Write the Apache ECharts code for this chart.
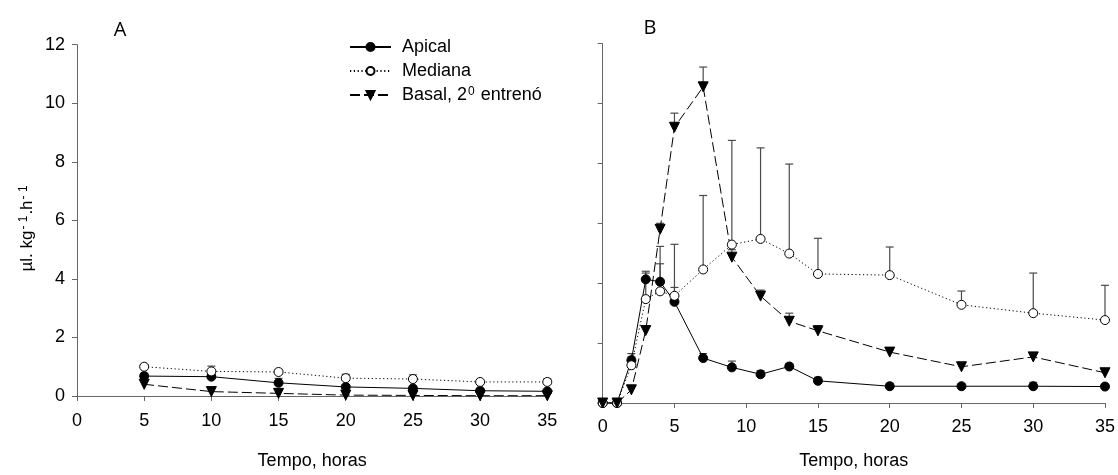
<!DOCTYPE html>
<html>
<head>
<meta charset="utf-8">
<script src="https://cdn.jsdelivr.net/npm/echarts@6/dist/echarts.min.js"></script>
<style>
  html, body { margin: 0; padding: 0; background: #fff; }
  #chart { width: 1118px; height: 475px; }
</style>
</head>
<body>
<div id="chart"></div>
<script type="text/javascript">
// painel A
var tempoA = [5, 10, 15, 20, 25, 30, 35];
var apicalA = [0.68, 0.66, 0.45, 0.31, 0.26, 0.18, 0.16];
var apicalAErr = [0.10, 0.08, 0.15, 0.07, 0.06, 0.05, 0.05];
var medianaA = [1.00, 0.84, 0.82, 0.61, 0.58, 0.48, 0.48];
var medianaAErr = [0.08, 0.18, 0.09, 0.13, 0.14, 0.04, 0.11];
var basalA = [0.40, 0.15, 0.09, 0.03, 0.02, 0.01, 0.01];
var basalAErr = [0, 0, 0, 0, 0, 0, 0];

// painel B
var tempoB = [0, 1, 2, 3, 4, 5, 7, 9, 11, 13, 15, 20, 25, 30, 35];
var apicalB = [0, 0, 1.43, 4.13, 4.05, 3.38, 1.50, 1.19, 0.96, 1.22, 0.74, 0.56, 0.56, 0.56, 0.55];
var apicalBErr = [0, 0, 0.22, 0.27, 0.60, 0.48, 0.15, 0.21, 0.12, 0.10, 0.12, 0.10, 0.08, 0.13, 0];
var medianaB = [0, 0, 1.26, 3.47, 3.73, 3.58, 4.46, 5.29, 5.48, 4.99, 4.31, 4.27, 3.28, 3.00, 2.77];
var medianaBErr = [0, 0, 0.28, 0.87, 1.50, 1.72, 2.47, 3.48, 3.04, 2.99, 1.19, 0.94, 0.46, 1.34, 1.16];
var basalB = [0, 0, 0.44, 2.42, 5.80, 9.21, 10.56, 4.87, 3.57, 2.73, 2.41, 1.70, 1.21, 1.54, 1.01];
var basalBErr = [0, 0, 0, 0, 0.20, 0.47, 0.66, 0.25, 0.20, 0.27, 0.17, 0, 0, 0, 0];

var FONT = '"Liberation Sans", Arial, sans-serif';
var AXIS = '#666';

function pares(t, v) {
    return t.map(function (x, i) { return [x, v[i]]; });
}
function trios(t, v, e) {
    return t.map(function (x, i) { return [x, v[i], e[i]]; });
}

// barra de erro so para cima, com traco no topo
function erroBar(params, api) {
    var e = api.value(2);
    if (!e) return;
    var x = api.value(0), y = api.value(1);
    var p0 = api.coord([x, y]);
    var p1 = api.coord([x, y + e]);
    var st = { stroke: '#4a4a4a', lineWidth: 1.2 };
    return {
        type: 'group',
        children: [
            { type: 'line', shape: { x1: p0[0], y1: p0[1], x2: p1[0], y2: p1[1] }, style: st },
            { type: 'line', shape: { x1: p1[0] - 4, y1: p1[1], x2: p1[0] + 4, y2: p1[1] }, style: st }
        ]
    };
}

function xEixo(idx, gap, labelMargin) {
    return {
        type: 'value', gridIndex: idx, min: 0, max: 35, interval: 5,
        name: 'Tempo, horas', nameLocation: 'middle', nameGap: gap,
        nameTextStyle: { fontFamily: FONT, fontSize: 18, color: '#000' },
        axisLine: { onZero: false, lineStyle: { color: AXIS, width: 1 } },
        axisTick: { show: true, length: 5, lineStyle: { color: AXIS } },
        axisLabel: { fontFamily: FONT, fontSize: 18, color: '#000', margin: labelMargin },
        splitLine: { show: false }
    };
}
function yEixo(idx, labels) {
    return {
        type: 'value', gridIndex: idx, min: 0, max: 12, interval: 2,
        axisLine: { show: true, lineStyle: { color: AXIS, width: 1 } },
        axisTick: { show: true, length: 5, lineStyle: { color: AXIS } },
        axisLabel: { show: labels, fontFamily: FONT, fontSize: 18, color: '#000', margin: 12 },
        splitLine: { show: false }
    };
}

var estilos = {
    'Apical': { symbol: 'circle', symbolSize: 9, symbolRotate: 0, line: 'solid', fill: '#000' },
    'Mediana': { symbol: 'circle', symbolSize: 9, symbolRotate: 0, line: [1.2, 2.6], fill: '#fff' },
    'Basal': { symbol: 'triangle', symbolSize: 10, symbolRotate: 180, line: [10, 4], fill: '#000' }
};

function linha(nome, idx, data) {
    var s = estilos[nome];
    return {
        name: nome, type: 'line', xAxisIndex: idx, yAxisIndex: idx, data: data,
        symbol: s.symbol, symbolSize: s.symbolSize, symbolRotate: s.symbolRotate,
        showAllSymbol: true, z: 3,
        lineStyle: { color: '#000', width: 1, type: s.line },
        itemStyle: { color: s.fill, borderColor: '#000', borderWidth: 1 }
    };
}
function erro(nome, idx, data) {
    return {
        name: nome, type: 'custom', xAxisIndex: idx, yAxisIndex: idx, data: data,
        renderItem: erroBar, z: 2, silent: true
    };
}

var myChart = echarts.init(document.getElementById('chart'), null, { renderer: 'canvas' });
var option = {
    backgroundColor: '#fff',
    animation: false,
    grid: [
        { left: 77, top: 44.7, width: 470.3, height: 352.6 },
        { left: 602.7, top: 43.7, width: 505, height: 364 }
    ],
    xAxis: [xEixo(0, 56, 16), xEixo(1, 49, 15)],
    yAxis: [yEixo(0, true), yEixo(1, false)],
    legend: {
        data: ['Apical', 'Mediana', 'Basal'],
        orient: 'vertical', left: 344, top: 33,
        itemWidth: 41, itemHeight: 10, itemGap: 6,
        selectedMode: false,
        formatter: function (name) {
            if (name === 'Basal') return '{t|Basal, 2}{s|0}{t| entrenó}';
            return '{t|' + name + '}';
        },
        textStyle: {
            padding: [0, 0, 0, 6],
            rich: {
                t: { fontFamily: FONT, fontSize: 18, color: '#000', lineHeight: 18 },
                s: { fontFamily: FONT, fontSize: 12, color: '#000', verticalAlign: 'top', lineHeight: 11, padding: [0, 1, 0, 1] }
            }
        }
    },
    graphic: [
        { type: 'text', x: 120, y: 30, style: { text: 'A', font: '20px "Open Sans", sans-serif', fill: '#000', textAlign: 'center', textVerticalAlign: 'middle' } },
        { type: 'text', x: 650, y: 28, style: { text: 'B', font: '20px "Open Sans", sans-serif', fill: '#000', textAlign: 'center', textVerticalAlign: 'middle' } },
        {
            type: 'text', x: 27, y: 228, rotation: Math.PI / 2,
            style: {
                text: '{a|µl. kg}{s|- 1}{a|.h}{s|- 1}',
                textAlign: 'center', textVerticalAlign: 'middle',
                rich: {
                    a: { fontFamily: FONT, fontSize: 17, fill: '#000', lineHeight: 18 },
                    s: { fontFamily: FONT, fontSize: 12, fill: '#000', lineHeight: 11, verticalAlign: 'top', padding: [0, 1, 0, 1] }
                }
            }
        }
    ],
    series: [
        erro('eApicalA', 0, trios(tempoA, apicalA, apicalAErr)),
        erro('eMedianaA', 0, trios(tempoA, medianaA, medianaAErr)),
        erro('eBasalA', 0, trios(tempoA, basalA, basalAErr)),
        linha('Apical', 0, pares(tempoA, apicalA)),
        linha('Mediana', 0, pares(tempoA, medianaA)),
        linha('Basal', 0, pares(tempoA, basalA)),
        erro('eApicalB', 1, trios(tempoB, apicalB, apicalBErr)),
        erro('eMedianaB', 1, trios(tempoB, medianaB, medianaBErr)),
        erro('eBasalB', 1, trios(tempoB, basalB, basalBErr)),
        linha('Apical', 1, pares(tempoB, apicalB)),
        linha('Mediana', 1, pares(tempoB, medianaB)),
        linha('Basal', 1, pares(tempoB, basalB))
    ]
};
myChart.setOption(option);
</script>
</body>
</html>
